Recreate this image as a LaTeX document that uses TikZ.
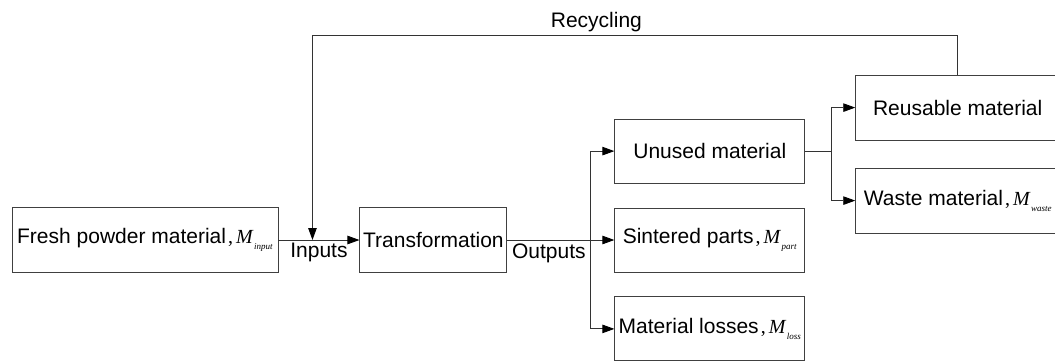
\documentclass[tikz,border=0pt]{standalone}
\usepackage{fontspec}
\setmainfont{Liberation Sans}
\newfontfamily\mfont{Liberation Serif}
\usetikzlibrary{positioning,arrows.meta,calc}
\newcommand{\massof}[1]{{\mfont\fontsize{20}{20}\selectfont\kern2pt,\kern3pt\textit{M}\kern0.5pt\raisebox{-6pt}{\fontsize{9}{9}\selectfont\textit{#1}}}}

\begin{document}
\begin{tikzpicture}[x=1pt, y=-1pt, font=\fontsize{21}{25}\selectfont,
 boxnode/.style={rectangle, draw=black!75, line width=0.9pt, inner xsep=1pt, minimum height=65pt},
 flowline/.style={draw=black!80, line width=0.9pt},
 >={Triangle[length=12pt, width=8.5pt, fill=black, color=black]}, ]
                \useasboundingbox (0,0) rectangle (1055,360);
                \clip (0,0) rectangle (1055,360);

                \node[boxnode, minimum width=266pt] (fresh) at (145,240) {Fresh powder material\massof{input}};
                \node[boxnode, minimum width=147pt] (trans) [right=81pt of fresh] {Transformation};
		        \node[boxnode, minimum width=190pt, minimum height=64pt] (sinter) [right=107pt of trans] {Sintered parts\massof{part}};
		        \node[boxnode, minimum width=190pt, minimum height=64pt] (unused) [above=24pt of sinter] {Unused material};
		        \node[boxnode, minimum width=190pt, minimum height=64pt] (losses) [below=24pt of sinter] {Material losses\massof{loss}};
		        \node[boxnode, minimum width=204pt] (reuse) [right=50pt of unused, yshift=43.5pt] {Reusable material};
		        \node[boxnode, minimum width=204pt] (waste) [right=50pt of unused, yshift=-49.5pt] {Waste material\massof{waste}};

		        \coordinate (join) at ($(fresh.east)!0.42!(trans.west)$);
		        \coordinate (split) at ([xshift=83pt]trans.east);
		        \coordinate (fork) at ([xshift=26pt]unused.east);

                 \path [flowline,->] (fresh.east) -- node[below, inner sep=3pt] {Inputs} (trans.west);
                 \path [flowline] (trans.east) -- node[below, inner sep=3pt] {Outputs} (split);
                 \path [flowline,->] (split) -- (sinter.west);
                 \path [flowline,->] (split) |- (unused.west);
                 \path [flowline,->] (split) |- (losses.west);
                 \path [flowline] (unused.east) -- (fork);
                 \path [flowline,->] (fork) |- (reuse.west);
                 \path [flowline,->] (fork) |- (waste.west);
                 \path [flowline,->] (reuse.north) -- ++(0,-39) -| node[pos=0.28, above, inner sep=3pt] {Recycling} (join);
\end{tikzpicture}
\end{document}
